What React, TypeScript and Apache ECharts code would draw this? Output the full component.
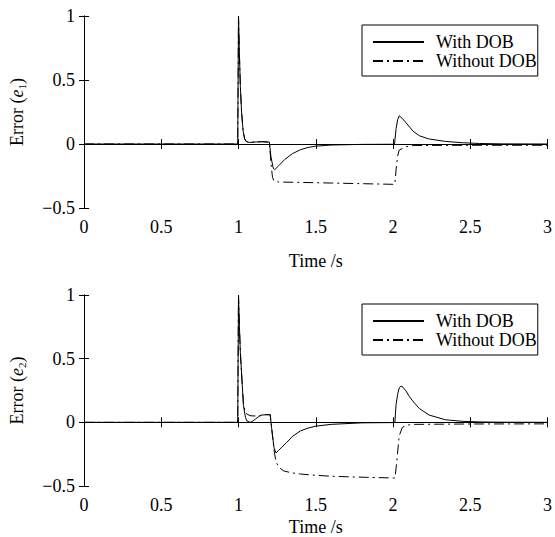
import React, { useEffect, useRef } from "react";
import * as echarts from "echarts";

// ---- Data (time [s], error) ----
const e1WithDOB: [number, number][] = [
  [0, 0], [0.995, 0], [1.0, 1.0], [1.006, 0.7], [1.012, 0.45], [1.02, 0.25], [1.03, 0.1],
  [1.04, 0.04], [1.05, 0.02], [1.07, 0.012], [1.1, 0.015], [1.15, 0.018], [1.2, 0.015],
  [1.21, -0.1], [1.225, -0.19], [1.235, -0.2], [1.26, -0.17], [1.3, -0.12], [1.35, -0.075],
  [1.4, -0.045], [1.45, -0.027], [1.5, -0.017], [1.6, -0.008], [1.8, -0.003], [2.0, -0.002],
  [2.01, 0], [2.02, 0.12], [2.03, 0.19], [2.04, 0.22], [2.06, 0.2], [2.085, 0.165], [2.13, 0.1],
  [2.17, 0.065], [2.23, 0.04], [2.34, 0.02], [2.45, 0.01], [2.56, 0.004], [2.7, 0.001], [3, 0],
];
const e1WithoutDOB: [number, number][] = [
  [0, 0], [0.995, 0], [1.0, 1.0], [1.006, 0.7], [1.012, 0.45], [1.02, 0.25], [1.03, 0.1],
  [1.04, 0.04], [1.05, 0.02], [1.07, 0.012], [1.1, 0.015], [1.15, 0.018], [1.2, 0.015],
  [1.21, -0.15], [1.22, -0.26], [1.23, -0.29], [1.26, -0.297], [1.4, -0.3], [1.6, -0.305],
  [1.8, -0.31], [2.0, -0.315], [2.012, -0.315], [2.02, -0.2], [2.03, -0.095], [2.04, -0.048],
  [2.08, -0.022], [2.13, -0.012], [2.5, -0.01], [3, -0.01],
];
const e2WithDOB: [number, number][] = [
  [0, 0], [0.995, 0], [1.0, 1.0], [1.006, 0.75], [1.012, 0.55], [1.022, 0.34], [1.032, 0.13],
  [1.045, 0.04], [1.055, 0.01], [1.075, 0.0], [1.09, 0.008], [1.11, 0.026], [1.13, 0.045],
  [1.15, 0.057], [1.18, 0.06], [1.205, 0.06], [1.215, -0.05], [1.23, -0.2], [1.243, -0.24],
  [1.26, -0.22], [1.28, -0.195], [1.31, -0.16], [1.35, -0.11], [1.4, -0.068], [1.45, -0.045],
  [1.5, -0.03], [1.6, -0.016], [1.8, -0.004], [2.0, -0.002], [2.012, 0], [2.02, 0.14],
  [2.03, 0.22], [2.04, 0.27], [2.052, 0.285], [2.065, 0.275], [2.084, 0.247], [2.105, 0.205],
  [2.127, 0.169], [2.17, 0.109], [2.234, 0.057], [2.34, 0.02], [2.45, 0.008], [2.56, 0.003],
  [2.7, 0.001], [3, 0],
];
const e2WithoutDOB: [number, number][] = [
  [0, 0], [0.995, 0], [1.0, 1.0], [1.006, 0.75], [1.012, 0.55], [1.022, 0.34], [1.032, 0.15],
  [1.045, 0.075], [1.055, 0.065], [1.075, 0.052], [1.1, 0.05], [1.12, 0.05], [1.15, 0.056],
  [1.18, 0.06], [1.205, 0.06], [1.215, -0.05], [1.23, -0.22], [1.243, -0.31], [1.26, -0.35],
  [1.29, -0.38], [1.34, -0.396], [1.4, -0.406], [1.5, -0.416], [1.61, -0.424], [1.83, -0.432],
  [2.0, -0.437], [2.013, -0.437], [2.025, -0.3], [2.04, -0.107], [2.06, -0.04], [2.09, -0.022],
  [2.13, -0.016], [2.5, -0.013], [3, -0.012],
];

const seriesNames = ["With DOB", "Without DOB"];
const xRange = { min: 0, max: 3, interval: 0.5 };
const yRange = { min: -0.5, max: 1, interval: 0.5 };
const xTitle = "Time /s";
const yTitles = ["{a|Error (}{i|e}{s|1}{a|)}", "{a|Error (}{i|e}{s|2}{a|)}"];

const FONT = "'Liberation Serif', 'Times New Roman', serif";

export default function App() {
  const ref = useRef<HTMLDivElement>(null);

  useEffect(() => {
    if (!ref.current) return;
    const chart = echarts.init(ref.current, undefined, { renderer: "svg" });

    const grids = [
      { left: 83, top: 16, width: 467, height: 192 },
      { left: 83, top: 295, width: 467, height: 192 },
    ];
    const xNameGaps = [44, 32];

    const tickStyle = { show: true, inside: true, length: 5, lineStyle: { color: "#000", width: 1 } };
    const lineStyle = { show: true, lineStyle: { color: "#000", width: 1 } };

    const xAxes: any[] = [];
    const yAxes: any[] = [];
    grids.forEach((_, gi) => {
      xAxes.push({
        type: "value", gridIndex: gi, position: "bottom", ...xRange,
        axisLine: lineStyle, axisTick: tickStyle, splitLine: { show: false },
        axisLabel: { fontFamily: FONT, fontSize: 18, color: "#000", margin: 10 },
        name: xTitle, nameLocation: "middle", nameGap: xNameGaps[gi],
        nameTextStyle: { fontFamily: FONT, fontSize: 18, color: "#000" },
      });
      xAxes.push({
        type: "value", gridIndex: gi, position: "top", ...xRange,
        axisLine: lineStyle, axisTick: tickStyle, splitLine: { show: false },
        axisLabel: { show: false },
      });
      yAxes.push({
        type: "value", gridIndex: gi, position: "left", ...yRange,
        axisLine: lineStyle, axisTick: tickStyle, splitLine: { show: false },
        axisLabel: {
          fontFamily: FONT, fontSize: 18, color: "#000", margin: 9,
          formatter: (v: number) => (v < 0 ? "\u2212" + Math.abs(v) : String(v)),
        },
        name: yTitles[gi], nameLocation: "middle", nameGap: 57, nameRotate: 90,
        nameTextStyle: {
          fontFamily: FONT, fontSize: 18, color: "#000",
          rich: {
            a: { fontFamily: FONT, fontSize: 18, color: "#000", lineHeight: 20 },
            i: { fontFamily: FONT, fontSize: 18, color: "#000", fontStyle: "italic", lineHeight: 20 },
            s: { fontFamily: FONT, fontSize: 11, color: "#000", lineHeight: 11, verticalAlign: "bottom" },
          },
        },
      });
      yAxes.push({
        type: "value", gridIndex: gi, position: "right", ...yRange,
        axisLine: lineStyle, axisTick: tickStyle, splitLine: { show: false },
        axisLabel: { show: false },
      });
    });

    const mk = (name: string, data: [number, number][], gi: number, dashed: boolean) => ({
      type: "line",
      name,
      xAxisIndex: gi * 2,
      yAxisIndex: gi * 2,
      data,
      showSymbol: false,
      symbol: "none",
      smooth: false,
      color: "#000",
      lineStyle: { color: "#000", width: 1, type: dashed ? [10, 4, 2, 4] : "solid" },
      z: dashed ? 2 : 3,
    });

    const legendBase = {
      data: seriesNames,
      orient: "vertical",
      left: 362,
      itemWidth: 51,
      itemHeight: 18,
      itemGap: 1,
      padding: [8, 1, 6, 10],
      borderColor: "#000",
      borderWidth: 1,
      backgroundColor: "#fff",
      selectedMode: false,
      itemStyle: { opacity: 0 },
      textStyle: { fontFamily: FONT, fontSize: 18, color: "#000", padding: [0, 0, 0, 7] },
    };

    chart.setOption({
      animation: false,
      backgroundColor: "#fff",
      grid: grids.map((g) => ({ ...g, containLabel: false })),
      xAxis: xAxes,
      yAxis: yAxes,
      legend: [
        { ...legendBase, top: 25 },
        { ...legendBase, top: 304 },
      ],
      series: [
        mk(seriesNames[0], e1WithDOB, 0, false),
        mk(seriesNames[1], e1WithoutDOB, 0, true),
        mk(seriesNames[0], e2WithDOB, 1, false),
        mk(seriesNames[1], e2WithoutDOB, 1, true),
      ],
    });

    return () => chart.dispose();
  }, []);

  return (
    <div
      ref={ref}
      style={{ position: "absolute", left: 0, top: 0, width: 555, height: 537 }}
    />
  );
}
